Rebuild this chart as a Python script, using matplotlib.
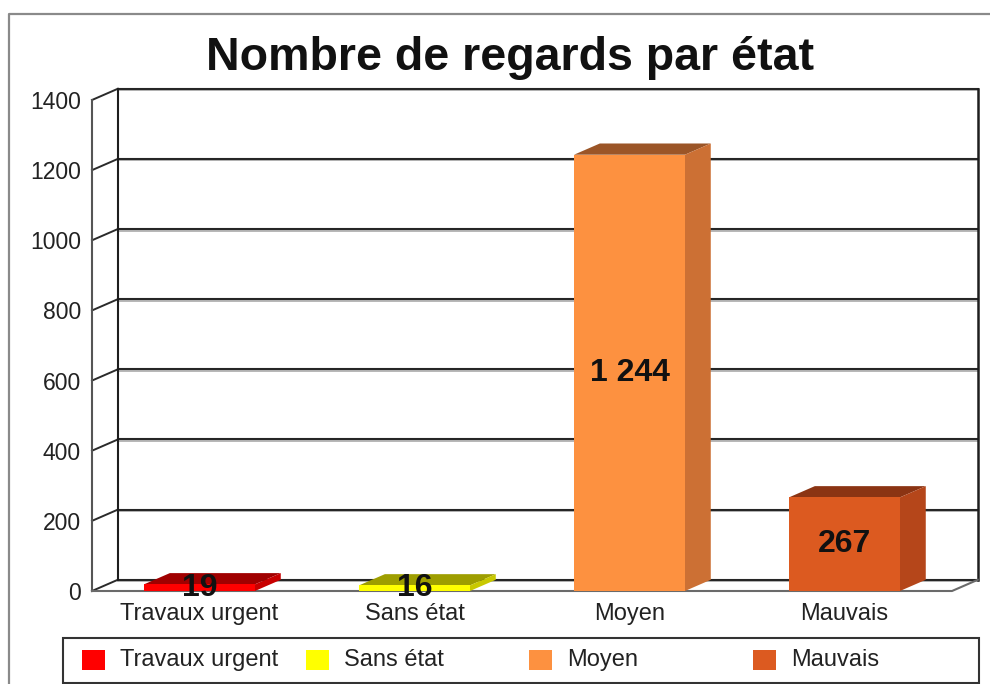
import matplotlib
matplotlib.use("Agg")
import matplotlib.pyplot as plt
from matplotlib.patches import Polygon, Rectangle
from matplotlib.lines import Line2D

plt.rcParams['font.family'] = ['Liberation Sans', 'DejaVu Sans']

# données
categories = ["Travaux urgent", "Sans état", "Moyen", "Mauvais"]
valeurs = [19, 16, 1244, 267]
y_ticks = [0, 200, 400, 600, 800, 1000, 1200, 1400]

# couleurs : face avant, dessus, côté
c_face = ["#ff0000", "#ffff00", "#fd9140", "#dc5a20"]
c_dessus = ["#a00000", "#9e9e00", "#9b5527", "#8b3413"]
c_cote = ["#c80000", "#c8c800", "#cc7034", "#b5461a"]

W, H = 990, 684
DX, DY = 0.12, 32   # profondeur 3D en unités de données
LARG = 0.516


def fx(px):
    return px / W


def fy(py):
    return 1 - py / H


fig = plt.figure(figsize=(W / 100, H / 100), dpi=100)

# cadre extérieur
fig.add_artist(Line2D([fx(9), fx(9), fx(1000)], [fy(700), fy(14), fy(14)],
                      color="#8a8a8a", lw=1.6, transform=fig.transFigure))

# plan avant du graphique
ax = fig.add_axes([fx(92), fy(591), fx(952) - fx(92), fy(100) - fy(591)])
ax.set_xlim(-0.5, 3.5)
ax.set_ylim(0, 1400)
for s in ax.spines.values():
    s.set_visible(False)
ax.set_facecolor("none")

ax.set_yticks(y_ticks)
ax.set_yticklabels([str(v) for v in y_ticks], fontsize=16.5, color="#222222")
ax.set_xticks(range(len(categories)))
ax.set_xticklabels(categories, fontsize=17, color="#222222")
ax.tick_params(axis="y", length=0, pad=8)
ax.tick_params(axis="x", length=0, pad=8.5)

x0, x1 = -0.5, 3.5
kw = dict(clip_on=False, solid_capstyle="projecting")
ombre = ax.transData + matplotlib.transforms.ScaledTranslation(0, -1.5 / 100, fig.dpi_scale_trans)

# mur du fond + mur gauche
for v in y_ticks:
    ax.plot([x0 + DX, x1 + DX], [v + DY, v + DY], color="#aaaaaa", lw=1.2, zorder=1,
            transform=ombre, **kw)
    ax.plot([x0 + DX, x1 + DX], [v + DY, v + DY], color="#262626", lw=1.5, zorder=2, **kw)
    ax.plot([x0, x0 + DX], [v, v + DY], color="#2a2a2a", lw=1.4, zorder=2, **kw)
ax.plot([x0 + DX, x0 + DX], [DY, 1400 + DY], color="#1e1e1e", lw=1.5, zorder=2, **kw)
ax.plot([x1 + DX, x1 + DX], [DY, 1400 + DY], color="#1e1e1e", lw=1.8, zorder=2, **kw)
ax.plot([x0, x0], [0, 1400], color="#555555", lw=1.5, zorder=2, **kw)
# sol
ax.plot([x0, x1, x1 + DX], [0, 0, DY], color="#6a6a6a", lw=1.5, zorder=2, **kw)

# barres 3D
for i, v in enumerate(valeurs):
    g, d = i - LARG / 2, i + LARG / 2
    dessus = Polygon([(g, v), (d, v), (d + DX, v + DY), (g + DX, v + DY)],
                     closed=True, facecolor=c_dessus[i], edgecolor="none", zorder=4, clip_on=False)
    cote = Polygon([(d, 0), (d + DX, DY), (d + DX, v + DY), (d, v)],
                   closed=True, facecolor=c_cote[i], edgecolor="none", zorder=4, clip_on=False)
    face = Rectangle((g, 0), LARG, v, facecolor=c_face[i], edgecolor="none", zorder=5, clip_on=False)
    ax.add_patch(dessus)
    ax.add_patch(cote)
    ax.add_patch(face)
    ax.text(i, v / 2, f"{v:,}".replace(",", " "), ha="center", va="center",
            fontsize=23, fontweight="bold", color="#111111", zorder=6, clip_on=False)

# titre
fig.text(fx(510), fy(58), "Nombre de regards par état", ha="center", va="center",
         fontsize=33.5, fontweight="bold", color="#111111")

# légende
fig.add_artist(Rectangle((fx(63), fy(683)), fx(979) - fx(63), fy(638) - fy(683),
                         transform=fig.transFigure, facecolor="white",
                         edgecolor="#333333", lw=1.5))
for i, nom in enumerate(categories):
    xl = 82 + i * 223.7
    fig.add_artist(Rectangle((fx(xl), fy(670)), fx(23), 20 / H,
                             transform=fig.transFigure, facecolor=c_face[i], edgecolor="none"))
    fig.text(fx(xl + 38), fy(660), nom, ha="left", va="center",
             fontsize=17, color="#222222")

fig.savefig("out.png", dpi=100, facecolor="white")
